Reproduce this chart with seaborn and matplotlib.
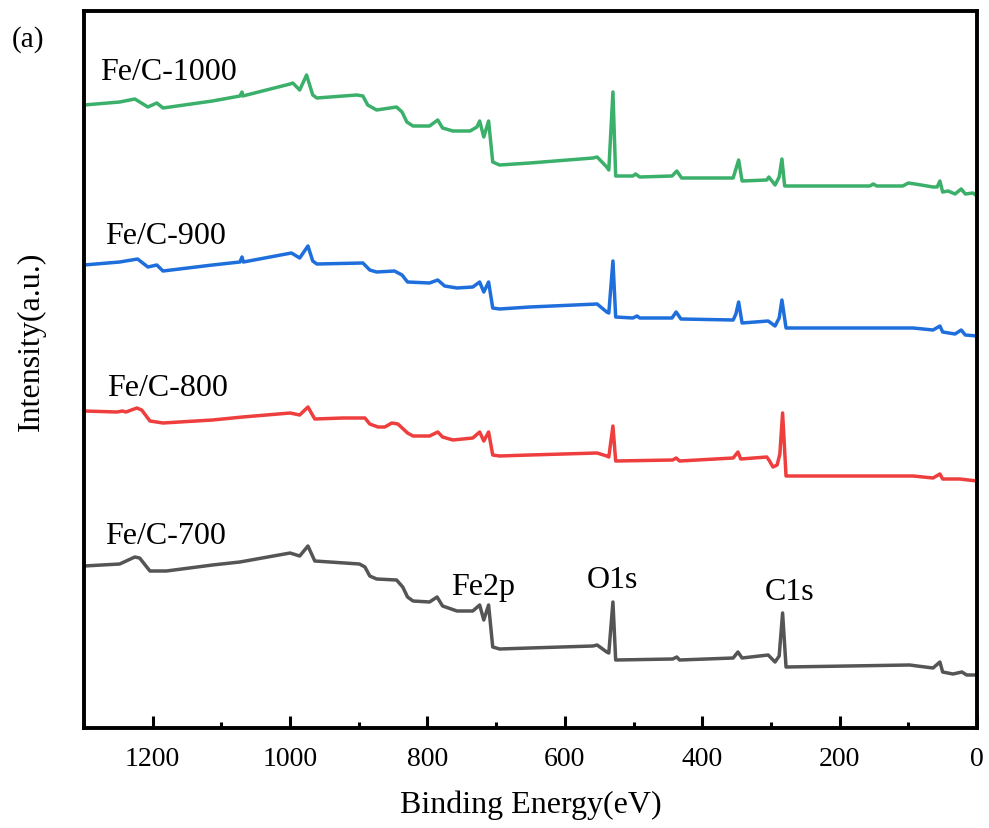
import numpy as np
import pandas as pd
import matplotlib
matplotlib.use("Agg")
import matplotlib.pyplot as plt
from matplotlib.ticker import MultipleLocator
import seaborn as sns

# binding energy (eV) / intensity (a.u., stacked)
fe_c_1000_energy = [1300, 1248, 1226, 1207, 1194, 1185, 1113, 1073, 1070, 1069, 1000, 996, 986, 976, 967, 961,
                    903, 894, 887, 874, 845, 837, 830, 821, 797, 785, 778, 763, 738, 728, 724, 718, 711, 705,
                    695, 651, 559, 553, 539, 536, 530, 526, 501, 497, 491, 444, 437, 430, 355, 351, 347, 342,
                    306, 303, 294, 288, 284, 280, 156, 151, 146, 108, 100, 90, 64, 58, 54, 50, 42, 32, 23,
                    17, 6, 0]
fe_c_1000_int = [623, 626, 629, 621, 625, 620, 627, 632, 636, 632, 644, 645, 638, 653, 633, 630,
                 633, 632, 623, 618, 621, 616, 606, 602, 602, 608, 600, 597, 597, 601, 607, 591, 607, 566,
                 563, 565, 570, 571, 561, 558, 636, 552, 552, 554, 551, 552, 557, 550, 550, 559, 568, 547,
                 548, 551, 543, 551, 569, 542, 542, 544, 542, 542, 545, 544, 541, 541, 547, 536, 537, 534, 539,
                 534, 535, 532]

fe_c_900_energy = [1300, 1248, 1222, 1207, 1194, 1185, 1113, 1073, 1070, 1068, 998, 986, 974, 967, 961,
                   894, 884, 874, 848, 837, 829, 797, 785, 775, 757, 734, 724, 718, 711, 705, 695, 651,
                   553, 539, 536, 530, 526, 501, 495, 491, 444, 438, 431, 355, 351, 347, 342, 304, 294,
                   288, 284, 278, 93, 64, 54, 50, 32, 23, 17, 0]
fe_c_900_int = [463, 466, 469, 461, 463, 457, 463, 466, 471, 466, 475, 470, 482, 467, 464,
                465, 458, 456, 457, 453, 446, 445, 448, 442, 440, 441, 446, 436, 446, 420, 419, 421,
                424, 416, 415, 467, 411, 410, 412, 410, 410, 416, 409, 408, 414, 426, 405, 407, 402,
                410, 428, 400, 400, 398, 402, 396, 394, 398, 393, 392]

fe_c_800_energy = [1300, 1252, 1244, 1239, 1223, 1216, 1204, 1185, 1113, 1069, 1000, 986, 974, 964, 923,
                   891, 884, 872, 862, 852, 843, 829, 821, 797, 785, 778, 763, 734, 724, 718, 711, 705,
                   695, 651, 553, 539, 536, 530, 526, 443, 438, 433, 355, 348, 344, 306, 302, 297, 291,
                   287, 283, 278, 93, 64, 54, 50, 25, 0]
fe_c_800_int = [317, 316, 317, 316, 320, 318, 307, 305, 308, 311, 315, 313, 321, 309, 310,
                310, 304, 301, 301, 305, 304, 295, 292, 292, 296, 291, 288, 290, 296, 287, 296, 273,
                272, 273, 275, 272, 271, 302, 267, 268, 270, 267, 270, 276, 269, 271, 267, 261, 263,
                274, 315, 252, 252, 250, 254, 249, 249, 247]

fe_c_700_energy = [1300, 1248, 1226, 1219, 1204, 1180, 1113, 1073, 1000, 986, 974, 964, 899, 891, 884,
                   874, 845, 836, 829, 821, 797, 786, 778, 757, 734, 724, 718, 711, 705, 695, 651, 559,
                   553, 539, 536, 530, 526, 443, 437, 433, 355, 348, 342, 304, 294, 288, 283, 278, 98,
                   87, 64, 54, 50, 35, 22, 15, 0]
fe_c_700_int = [162, 164, 171, 170, 157, 157, 163, 166, 175, 172, 182, 167, 164, 161, 152,
                149, 148, 141, 131, 127, 126, 131, 122, 117, 117, 123, 108, 123, 81, 79, 80, 82,
                83, 76, 75, 126, 68, 69, 71, 68, 70, 76, 70, 73, 66, 72, 115, 61, 63,
                62, 60, 66, 56, 54, 56, 53, 53]

samples = ["Fe/C-700", "Fe/C-800", "Fe/C-900", "Fe/C-1000"]
sample_colors = ["#555555", "#EE3E3E", "#1E6FDC", "#3BB06A"]

# label anchors (left x in eV, centre y in a.u.)
sample_label_x = [1270, 1267, 1270, 1276]
sample_label_y = [192, 341, 492, 656]
peak_names = ["Fe2p", "O1s", "C1s"]
peak_label_x = [765, 568, 309]
peak_label_y = [142, 149, 136]

frames = []
for name, e, i in zip(samples,
                      [fe_c_700_energy, fe_c_800_energy, fe_c_900_energy, fe_c_1000_energy],
                      [fe_c_700_int, fe_c_800_int, fe_c_900_int, fe_c_1000_int]):
    frames.append(pd.DataFrame({"energy": e, "intensity": i, "sample": name}))
df = pd.concat(frames, ignore_index=True)

sns.set_style("ticks")
plt.rcParams.update({
    'font.family': ['Liberation Serif', 'DejaVu Serif'],
    'text.color': 'black',
    'axes.labelcolor': 'black',
    'axes.axisbelow': False,
    'xtick.color': 'black',
    'xtick.direction': 'in',
    'xtick.bottom': True,
    'xtick.top': False,
    'xtick.major.size': 9,
    'xtick.major.width': 2.2,
    'xtick.minor.size': 4.5,
    'xtick.minor.width': 2.2,
    'xtick.major.pad': 13,
    'xtick.labelsize': 20,
})

fig = plt.figure(figsize=(9.89, 8.29), dpi=100)
ax = fig.add_axes([84 / 989, 1 - 729 / 829, (977 - 84) / 989, (729 - 12) / 829])

sns.lineplot(data=df, x="energy", y="intensity", hue="sample", hue_order=samples,
             palette=dict(zip(samples, sample_colors)), estimator=None, linewidth=2.5,
             legend=False, ax=ax)

ax.set_xlim(1300, 0)
ax.set_ylim(0, 717)
ax.set_xticks([1200, 1000, 800, 600, 400, 200, 0])
ax.xaxis.set_minor_locator(MultipleLocator(100))
ax.set_yticks([])
for sp in ax.spines.values():
    sp.set_visible(True)
    sp.set_linewidth(2.8)
    sp.set_color("black")

ax.set_xlabel("Binding Energy(eV)", fontsize=23, va="center")
ax.xaxis.set_label_coords(0.5, (729 - 805) / 717)
ax.set_ylabel("Intensity(a.u.)", fontsize=23, va="center")
ax.yaxis.set_label_coords((31 - 84) / 893, (729 - 341) / 717)

for name, x, y in zip(samples, sample_label_x, sample_label_y):
    ax.text(x, y, name, fontsize=23, ha="left", va="center")
for name, x, y in zip(peak_names, peak_label_x, peak_label_y):
    ax.text(x, y, name, fontsize=23, ha="left", va="center")

fig.text(12 / 989, 1 - 40 / 829, "(a)", fontsize=21, ha="left", va="center")

fig.savefig("out.png", dpi=100)
